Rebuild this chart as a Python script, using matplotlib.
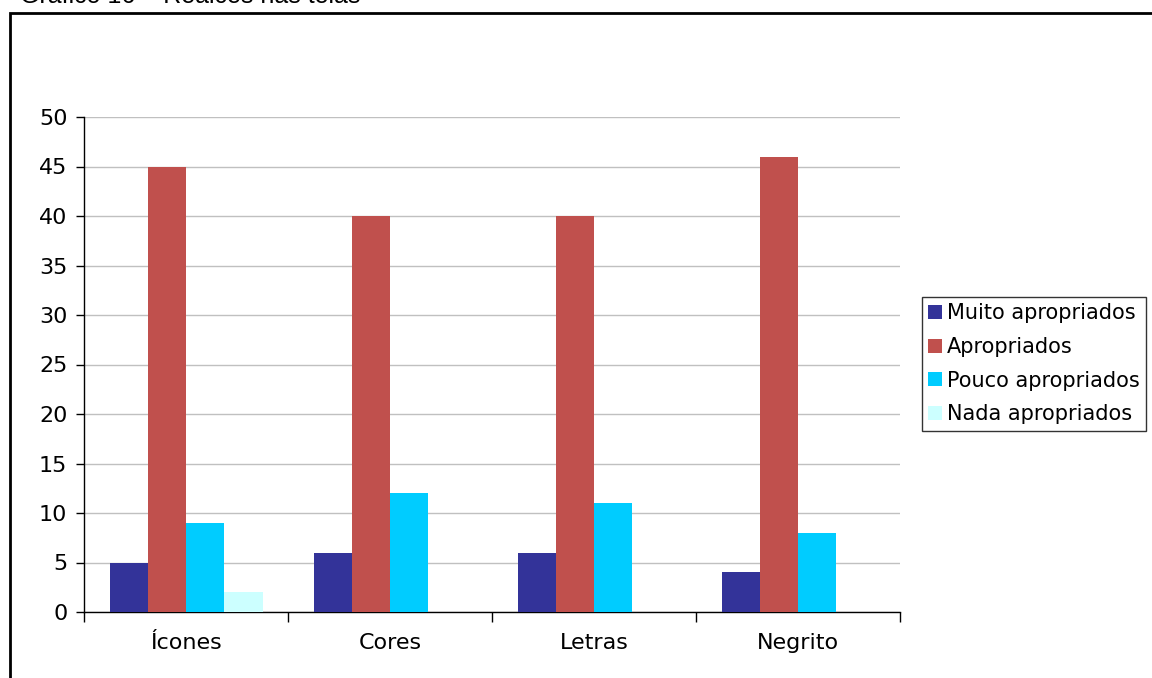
import matplotlib.pyplot as plt
import numpy as np
from matplotlib.patches import Rectangle

categories = ["Ícones", "Cores", "Letras", "Negrito"]
series_names = ["Muito apropriados", "Apropriados", "Pouco apropriados", "Nada apropriados"]
muito = [5, 6, 6, 4]
apropriados = [45, 40, 40, 46]
pouco = [9, 12, 11, 8]
nada = [2, 0, 0, 0]
colors = ["#333399", "#C0504D", "#00CCFF", "#CCFFFF"]

title = "Gráfico 16 – Realces nas telas"


def main() -> None:
    fig = plt.figure(figsize=(11.52, 6.78), dpi=100)
    W, H = 1152, 678

    # outer chart frame (runs off the right and bottom edge)
    fig.patches.append(Rectangle((10 / W, -0.05), 1.2, 1 - 13 / H + 0.05,
                                 transform=fig.transFigure, fill=False,
                                 edgecolor="black", linewidth=2))
    # title is cut off at the top edge, as in the source page
    fig.text(20 / W, 1 - 3 / H, title, fontsize=18, family="Liberation Sans",
             va="baseline", ha="left")

    ax = fig.add_axes([84 / W, 1 - 612 / H, (900 - 84) / W, (612 - 117) / H])
    x = np.arange(len(categories))
    width = 0.1875
    data = [muito, apropriados, pouco, nada]
    for i, (vals, name, c) in enumerate(zip(data, series_names, colors)):
        ax.bar(x + (i - 1.5) * width, vals, width, color=c, label=name, zorder=3)

    ax.set_xlim(-0.5, len(categories) - 0.5)
    ax.set_ylim(0, 50)
    ax.set_yticks(range(0, 51, 5))
    ax.yaxis.grid(True, color="#C0C0C0", linewidth=1, zorder=0)
    ax.set_axisbelow(True)

    ax.set_xticks(x)
    ax.set_xticklabels(categories, fontsize=16)
    ax.tick_params(axis="x", length=0, pad=15)
    ax.set_xticks(np.arange(-0.5, len(categories)), minor=True)
    ax.tick_params(axis="x", which="minor", length=7, width=1, direction="out")
    ax.tick_params(axis="y", labelsize=16, length=6, width=1, direction="out", pad=6)

    for s in ["top", "right"]:
        ax.spines[s].set_visible(False)
    ax.spines["left"].set_linewidth(1)
    ax.spines["bottom"].set_linewidth(1)

    leg = fig.legend(loc="upper left", bbox_to_anchor=(922 / W, 1 - 297 / H),
                     fontsize=15, frameon=True, fancybox=False, edgecolor="black",
                     handlelength=0.65, handleheight=0.65, handletextpad=0.25,
                     borderpad=0.3, labelspacing=0.66, borderaxespad=0)
    leg.get_frame().set_linewidth(1)

    fig.savefig("out.png", dpi=100)


if __name__ == "__main__":
    main()
